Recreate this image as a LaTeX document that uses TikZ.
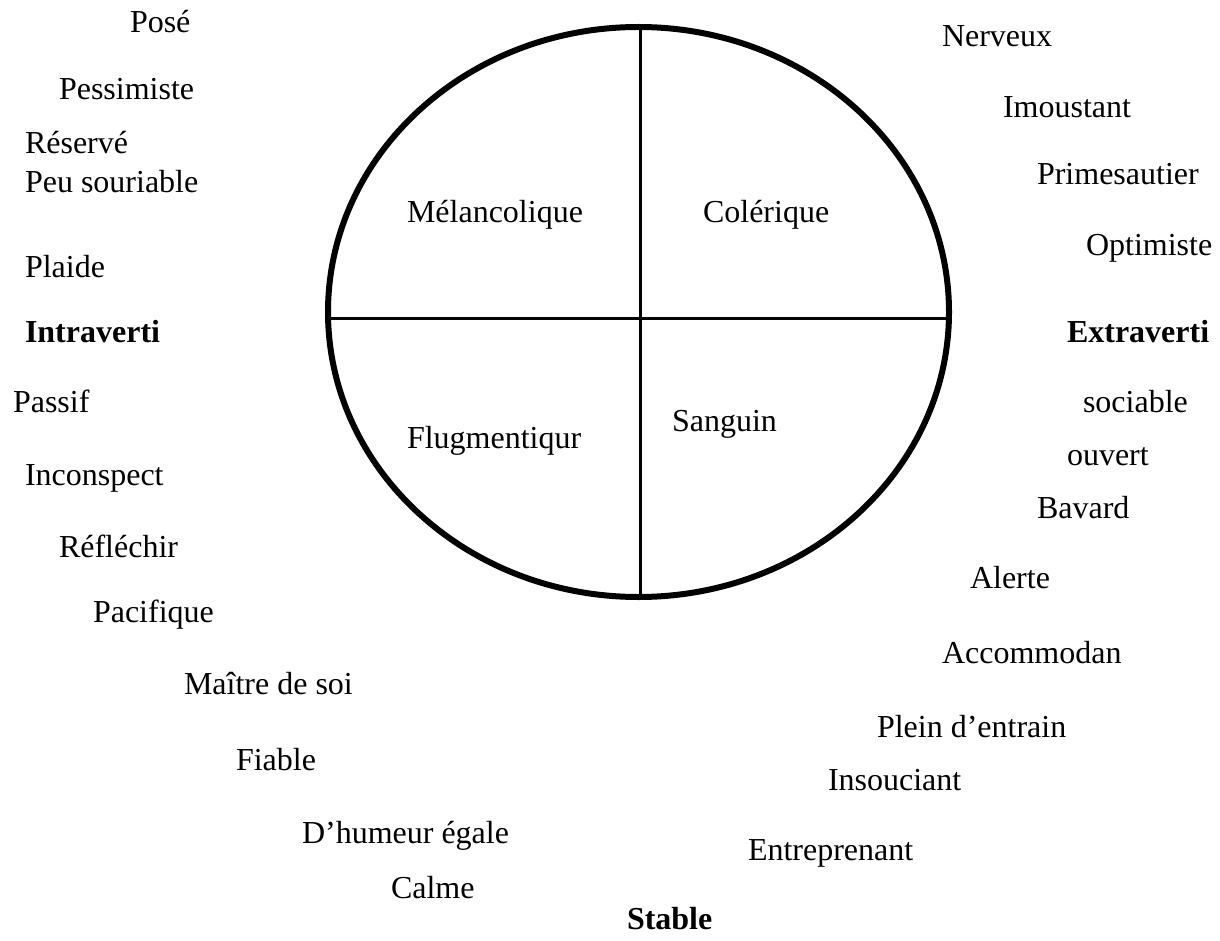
\documentclass[tikz,border=0pt]{standalone}
\usepackage{fontspec}
\setmainfont{Liberation Serif}
\begin{document}
\begin{tikzpicture}[x=1pt,y=-1pt,
  lbl/.style={anchor=base west,inner sep=0pt,outer sep=0pt,font=\fontsize{32}{38}\selectfont},
  blbl/.style={lbl,font=\fontsize{32}{38}\selectfont\bfseries},
  rim/.style={draw=black,line width=6pt},
  split/.style={draw=black,line width=3pt}]
\useasboundingbox (0,0) rectangle (1220,941);
% ellipse with quadrants
\draw[rim] (638.5,312) ellipse [x radius=310.5, y radius=285];
\coordinate (top) at (640,27);
\coordinate (bot) at (640,597);
\coordinate (lft) at (328.5,318);
\coordinate (rgt) at (948.5,318);
\draw[split] (top) -- (bot);
\draw[split] (lft) -- (rgt);
% quadrant labels
\node[lbl] (mel) at (407,223) {Mélancolique};
\node[lbl] (col) at (703,223) {Colérique};
\node[lbl] (flu) at (407,448) {Flugmentiqur};
\node[lbl] (san) at (672,431) {Sanguin};
% left column
\node[lbl] (pose) at (130,33) {Posé};
\node[lbl] (pess) at (59,100) {Pessimiste};
\node[lbl] (rese) at (25,154) {Réservé};
\node[lbl] (peus) at (25,193) {Peu souriable};
\node[lbl] (plai) at (25,277) {Plaide};
\node[blbl] (intr) at (25,342) {Intraverti};
\node[lbl] (pass) at (13,412) {Passif};
\node[lbl] (inco) at (25,485) {Inconspect};
\node[lbl] (refl) at (59,557) {Réfléchir};
\node[lbl] (paci) at (93,622) {Pacifique};
\node[lbl] (mait) at (184,694) {Maître de soi};
\node[lbl] (fiab) at (236,770) {Fiable};
\node[lbl] (dhum) at (302,843) {D’humeur égale};
\node[lbl] (calm) at (391,898) {Calme};
\node[blbl] (stab) at (627,929) {Stable};
% right column
\node[lbl] (entr) at (748,860) {Entreprenant};
\node[lbl] (inso) at (828,790) {Insouciant};
\node[lbl] (plei) at (877,737) {Plein d’entrain};
\node[lbl] (acco) at (942,663) {Accommodan};
\node[lbl] (aler) at (970,588) {Alerte};
\node[lbl] (bava) at (1037,518) {Bavard};
\node[lbl] (ouve) at (1067,465) {ouvert};
\node[lbl] (soci) at (1083,412) {sociable};
\node[blbl] (extr) at (1067,342) {Extraverti};
\node[lbl] (opti) at (1086,255) {Optimiste};
\node[lbl] (prim) at (1037,185) {Primesautier};
\node[lbl] (imou) at (1003,118) {Imoustant};
\node[lbl] (nerv) at (942,47) {Nerveux};
\end{tikzpicture}
\end{document}
